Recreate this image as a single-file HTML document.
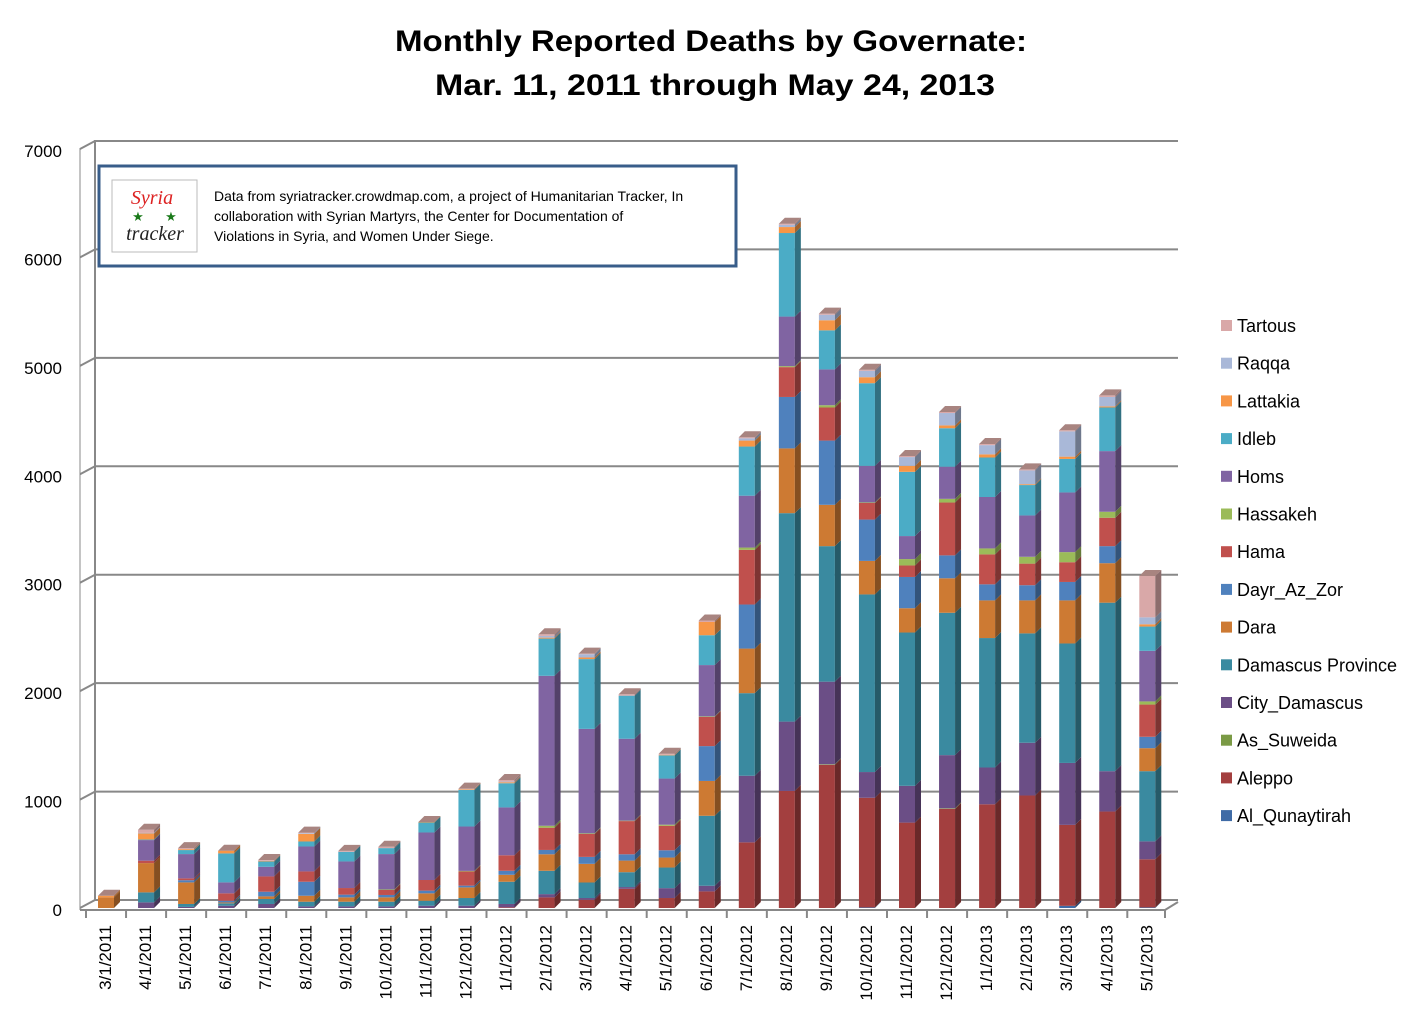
<!DOCTYPE html>
<html><head><meta charset="utf-8"><style>
body{margin:0;background:#fff;}
svg{display:block;font-family:"Liberation Sans",sans-serif;}
</style></head><body>
<svg id="chart" width="1422" height="1031" viewBox="0 0 1422 1031" xmlns="http://www.w3.org/2000/svg">
<text x="711" y="51" text-anchor="middle" font-size="30" font-weight="bold" textLength="632" lengthAdjust="spacingAndGlyphs">Monthly Reported Deaths by Governate:</text>
<text x="715" y="95" text-anchor="middle" font-size="30" font-weight="bold" textLength="560" lengthAdjust="spacingAndGlyphs">Mar. 11, 2011 through May 24, 2013</text>
<g id="grid"></g>
<g id="bars"></g>
<g id="xaxis"></g>
<g id="legend"></g>
<g>
<rect x="99" y="166" width="637" height="100" fill="#fff" stroke="#385D8A" stroke-width="3"/>
<rect x="112" y="180" width="85" height="72" fill="#fff" stroke="#bbb"/>
<text x="152" y="204" text-anchor="middle" font-size="20" fill="#d22" font-family="Liberation Serif,serif" font-style="italic">Syria</text>
<text x="138" y="221" text-anchor="middle" font-size="13" fill="#1a7a1a">★</text>
<text x="171" y="221" text-anchor="middle" font-size="13" fill="#1a7a1a">★</text>
<text x="155" y="240" text-anchor="middle" font-size="20" fill="#222" font-family="Liberation Serif,serif" font-style="italic">tracker</text>
<text x="214" y="201" font-size="14">Data from syriatracker.crowdmap.com, a project of Humanitarian Tracker, In</text>
<text x="214" y="221" font-size="14">collaboration with Syrian Martyrs, the Center for Documentation of</text>
<text x="214" y="241" font-size="14">Violations in Syria, and Women Under Siege.</text>
</g>
</svg>
<script>
const categories=["3/1/2011","4/1/2011","5/1/2011","6/1/2011","7/1/2011","8/1/2011","9/1/2011","10/1/2011","11/1/2011","12/1/2011","1/1/2012","2/1/2012","3/1/2012","4/1/2012","5/1/2012","6/1/2012","7/1/2012","8/1/2012","9/1/2012","10/1/2012","11/1/2012","12/1/2012","1/1/2013","2/1/2013","3/1/2013","4/1/2013","5/1/2013"];
const seriesNames=["Al_Qunaytirah","Aleppo","As_Suweida","City_Damascus","Damascus Province","Dara","Dayr_Az_Zor","Hama","Hassakeh","Homs","Idleb","Lattakia","Raqqa","Tartous"];
const alQunaytirah=[0,0,0,0,0,0,0,0,0,0,0,0,0,0,0,0,0,0,0,5,0,0,0,0,20,0,5];
const aleppo=[0,0,0,0,0,0,0,0,0,0,6,98,76,177,92,153,605,1079,1320,1011,787,914,956,1037,746,889,444];
const asSuweida=[0,0,0,0,0,0,0,0,0,0,0,0,0,0,0,0,0,0,5,0,0,5,0,0,0,0,0];
const cityDamascus=[0,52,10,21,37,15,15,15,21,21,31,30,16,16,91,52,614,639,761,237,339,490,339,486,571,372,165];
const damascusProvince=[0,92,27,22,46,43,43,43,46,71,205,215,143,137,190,645,761,1921,1249,1637,1413,1312,1193,1008,1101,1553,647];
const dara=[98,270,199,8,24,55,40,40,68,98,64,152,172,107,92,321,411,597,381,309,224,318,347,304,397,364,212];
const dayrAzZor=[0,0,20,16,43,129,25,22,25,16,37,40,64,58,67,321,406,474,592,381,288,211,148,140,170,157,105];
const hama=[0,22,17,68,141,95,61,46,98,131,143,205,211,306,226,269,504,275,305,153,106,487,276,199,182,262,297];
const hassakeh=[0,0,0,0,0,0,0,5,0,5,0,18,6,4,10,5,21,9,21,5,59,34,55,63,93,55,29];
const homs=[0,190,224,101,89,230,245,326,438,409,441,1382,963,755,425,473,478,457,330,337,212,296,474,381,550,559,466];
const idleb=[0,5,37,267,49,46,89,55,92,338,223,343,643,397,214,275,453,770,360,762,592,355,364,280,309,402,224];
const lattakia=[15,56,8,25,5,70,0,0,5,6,9,9,15,0,5,122,55,55,93,55,55,26,29,8,21,10,21];
const raqqa=[0,5,0,0,0,7,0,0,0,0,6,16,30,0,0,0,21,21,51,59,81,114,85,127,233,87,64];
const tartous=[0,29,10,0,8,5,8,12,0,5,15,15,5,13,10,14,10,10,10,10,10,10,10,10,10,15,381];
const yTicks=[0,1000,2000,3000,4000,5000,6000,7000];
const series=[alQunaytirah,aleppo,asSuweida,cityDamascus,damascusProvince,dara,dayrAzZor,hama,hassakeh,homs,idleb,lattakia,raqqa,tartous];
const colors=["#3F6BA6","#A33F3F","#7A9A45","#6B4E86","#3A8AA0","#CD7A33","#4F81BD","#C0504D","#9BBB59","#8064A2","#4BACC6","#F79646","#A9B8D8","#D9A8A8"];
const NS="http://www.w3.org/2000/svg";
function mk(tag,attrs,parent){const e=document.createElementNS(NS,tag);for(const k in attrs)e.setAttribute(k,attrs[k]);parent.appendChild(e);return e;}
function shade(hex,f){const n=parseInt(hex.slice(1),16);let r=n>>16,g=(n>>8)&255,b=n&255;return "rgb("+Math.round(r*f)+","+Math.round(g*f)+","+Math.round(b*f)+")";}
const yFront=v=>908-v*0.1085;
const yBack=v=>900-v*0.10843;
const xBar=i=>98+i*40.05;
const BW=16,DX=6,DY=6;
const grid=document.getElementById('grid');
yTicks.forEach(t=>{
  const y=yBack(t);
  const l=mk('polyline',{points:`80,${y+8} 95,${y} 1178,${y}`,fill:'none',stroke:'#888','stroke-width':2},grid);
  
  
  const tx=mk('text',{x:62,y:y+16,'text-anchor':'end','font-size':17},grid);
  tx.textContent=t;
  
  
});
mk('line',{x1:95,y1:140,x2:95,y2:900,stroke:'#888','stroke-width':2},grid);
mk('line',{x1:80,y1:148,x2:80,y2:910,stroke:'#888','stroke-width':1},grid);
const bars=document.getElementById('bars');
categories.forEach((c,i)=>{
  let cum=0;const x=xBar(i);
  series.forEach((s,k)=>{
    const v=s[i];if(!v)return;
    const y0=yFront(cum),y1=yFront(cum+v);cum+=v;
    const g=mk('g',{},bars);
    
    
    mk('rect',{x:x,y:y1,width:BW,height:y0-y1,fill:colors[k]},g);
    mk('polygon',{points:`${x+BW},${y1} ${x+BW+DX},${y1-DY} ${x+BW+DX},${y0-DY} ${x+BW},${y0}`,fill:shade(colors[k],0.65)},g);
  });
  const yt=yFront(cum);
  const top=mk('polygon',{points:`${x},${yt} ${x+DX},${yt-DY} ${x+BW+DX},${yt-DY} ${x+BW},${yt}`,fill:'#A88480'},bars);
  
  
});
const xa=document.getElementById('xaxis');
mk('polyline',{points:`80,910 1165,910 1178,902`,fill:'none',stroke:'#888','stroke-width':2},xa);
categories.forEach((c,i)=>{
  const x=xBar(i)-12;
  mk('line',{x1:x,y1:910,x2:x,y2:918,stroke:'#888','stroke-width':2},xa);
  const t=mk('text',{x:0,y:0,'text-anchor':'end','font-size':17,transform:`translate(${xBar(i)+13},925) rotate(-90)`},xa);
  t.textContent=c;
  
  
});
mk('line',{x1:1165,y1:910,x2:1165,y2:918,stroke:'#888','stroke-width':2},xa);
const lg=document.getElementById('legend');
for(let k=seriesNames.length-1,j=0;k>=0;k--,j++){
  const y=326+j*37.7;
  const g=mk('g',{},lg);
  
  
  mk('rect',{x:1221,y:y-6,width:11,height:11,fill:colors[k]},g);
  const t=mk('text',{x:1237,y:y+6,'font-size':18},g);
  t.textContent=seriesNames[k];
}
</script>
</body></html>
